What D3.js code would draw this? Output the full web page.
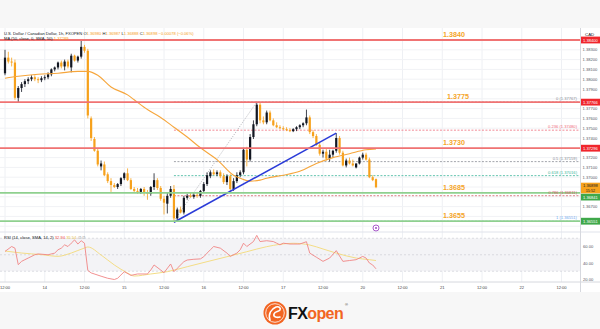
<!DOCTYPE html>
<html>
<head>
<meta charset="utf-8">
<script src="https://cdn.jsdelivr.net/npm/d3@7"></script>
<style>
  html, body { margin: 0; padding: 0; background: #f7f7f7; }
  svg { display: block; font-family: "Liberation Sans", Arial, sans-serif; }
</style>
</head>
<body>
<svg id="chart" width="600" height="329"></svg>
<script>
// USD/CAD 1h candles, [open, high, low, close], one per hour from 13th 12:00
const candles = [
  [1.3806,1.3830,1.3804,1.3822],[1.3822,1.3828,1.3816,1.3818],[1.3818,1.3822,1.3813,1.3817],
  [1.3817,1.3820,1.3779,1.3781],[1.3781,1.3793,1.3776,1.3791],[1.3791,1.3797,1.3787,1.3795],
  [1.3795,1.3800,1.3792,1.3798],[1.3798,1.3802,1.3795,1.3800],[1.3800,1.3804,1.3798,1.3802],
  [1.3802,1.3804,1.3798,1.3800],[1.3800,1.3802,1.3796,1.3799],[1.3799,1.3803,1.3797,1.3801],
  [1.3801,1.3804,1.3799,1.3802],[1.3802,1.3807,1.3800,1.3805],[1.3805,1.3811,1.3803,1.3810],
  [1.3810,1.3813,1.3808,1.3812],[1.3812,1.3818,1.3810,1.3817],[1.3817,1.3819,1.3811,1.3813],
  [1.3813,1.3820,1.3809,1.3818],[1.3818,1.3820,1.3811,1.3813],[1.3812,1.3826,1.3807,1.3824],
  [1.3824,1.3825,1.3818,1.3819],[1.3819,1.3824,1.3817,1.3823],[1.3823,1.3840,1.3821,1.3833],
  [1.3833,1.3835,1.3827,1.3829],[1.3829,1.3831,1.3760,1.3763],[1.3760,1.3762,1.3737,1.3740],
  [1.3739,1.3741,1.3726,1.3727],[1.3727,1.3729,1.3711,1.3713],[1.3711,1.3717,1.3707,1.3714],
  [1.3713,1.3716,1.3701,1.3702],[1.3703,1.3705,1.3694,1.3696],[1.3696,1.3699,1.3685,1.3692],
  [1.3692,1.3694,1.3689,1.3690],[1.3690,1.3694,1.3688,1.3693],[1.3693,1.3700,1.3691,1.3699],
  [1.3699,1.3705,1.3697,1.3704],[1.3704,1.3709,1.3696,1.3697],[1.3697,1.3699,1.3687,1.3688],
  [1.3688,1.3690,1.3684,1.3686],[1.3686,1.3689,1.3683,1.3685],[1.3685,1.3689,1.3683,1.3688],
  [1.3688,1.3690,1.3681,1.3684],[1.3684,1.3687,1.3677,1.3683],[1.3683,1.3691,1.3681,1.3690],
  [1.3690,1.3704,1.3687,1.3697],[1.3697,1.3699,1.3687,1.3689],[1.3689,1.3691,1.3676,1.3678],
  [1.3678,1.3681,1.3662,1.3674],[1.3673,1.3684,1.3663,1.3681],[1.3681,1.3691,1.3679,1.3688],
  [1.3688,1.3692,1.3654,1.3658],[1.3658,1.3669,1.3655,1.3667],[1.3667,1.3670,1.3663,1.3664],
  [1.3664,1.3681,1.3662,1.3679],[1.3679,1.3683,1.3677,1.3681],[1.3681,1.3684,1.3679,1.3680],
  [1.3680,1.3684,1.3678,1.3682],[1.3682,1.3685,1.3679,1.3681],[1.3681,1.3687,1.3679,1.3686],
  [1.3686,1.3695,1.3684,1.3693],[1.3693,1.3705,1.3691,1.3702],[1.3701,1.3707,1.3699,1.3705],
  [1.3705,1.3708,1.3702,1.3703],[1.3703,1.3707,1.3701,1.3705],[1.3705,1.3707,1.3699,1.3701],
  [1.3701,1.3704,1.3693,1.3695],[1.3695,1.3703,1.3692,1.3701],[1.3701,1.3703,1.3685,1.3688],
  [1.3688,1.3699,1.3686,1.3696],[1.3696,1.3705,1.3694,1.3702],[1.3702,1.3707,1.3700,1.3705],
  [1.3705,1.3730,1.3703,1.3728],[1.3728,1.3731,1.3711,1.3718],[1.3718,1.3744,1.3716,1.3741],
  [1.3741,1.3758,1.3739,1.3754],[1.3754,1.3777,1.3752,1.3774],[1.3774,1.3776,1.3755,1.3758],
  [1.3758,1.3762,1.3754,1.3756],[1.3756,1.3768,1.3754,1.3766],[1.3766,1.3768,1.3757,1.3758],
  [1.3758,1.3760,1.3752,1.3753],[1.3753,1.3756,1.3750,1.3751],[1.3751,1.3753,1.3749,1.3750],
  [1.3750,1.3752,1.3748,1.3749],[1.3749,1.3751,1.3747,1.3748],[1.3748,1.3750,1.3746,1.3747],
  [1.3747,1.3750,1.3746,1.3749],[1.3749,1.3752,1.3747,1.3751],[1.3751,1.3754,1.3749,1.3753],
  [1.3753,1.3756,1.3751,1.3755],[1.3755,1.3769,1.3753,1.3761],[1.3761,1.3763,1.3744,1.3746],
  [1.3746,1.3748,1.3740,1.3742],[1.3742,1.3744,1.3732,1.3733],[1.3733,1.3735,1.3722,1.3724],
  [1.3724,1.3728,1.3720,1.3726],[1.3726,1.3729,1.3717,1.3719],[1.3719,1.3728,1.3716,1.3723],
  [1.3723,1.3728,1.3720,1.3727],[1.3727,1.3745,1.3725,1.3740],[1.3740,1.3742,1.3723,1.3725],
  [1.3725,1.3727,1.3711,1.3712],[1.3712,1.3719,1.3710,1.3717],[1.3717,1.3720,1.3713,1.3714],
  [1.3714,1.3718,1.3711,1.3712],[1.3710,1.3714,1.3709,1.3714],[1.3714,1.3721,1.3713,1.3720],
  [1.3720,1.3725,1.3718,1.3723],[1.3723,1.3725,1.3717,1.3718],[1.3718,1.3720,1.3699,1.3700],
  [1.3700,1.3702,1.3696,1.3697],[1.36980,1.36987,1.36888,1.36898]
];

// MA(50) read at a few bars
const maIdx = [0, 4, 10, 16, 22, 25, 28, 32, 37, 39, 43, 47, 51, 55, 59, 64, 69, 71, 74, 77, 79, 84, 89, 94, 99, 104, 109, 112];
const maVal = [1.3801, 1.3803, 1.3805, 1.3806, 1.3808, 1.3808, 1.3804, 1.3792, 1.3784, 1.3779, 1.3769, 1.3761, 1.3751,
               1.3741, 1.3730, 1.3718, 1.3702, 1.3699, 1.3696, 1.3697, 1.3699, 1.3702, 1.3706, 1.3714, 1.3720, 1.3724, 1.3728, 1.37289];

// RSI(14) and its SMA
const rsiIdx = [0, 2, 3, 4, 5, 6, 7, 9, 10, 13, 15, 16, 17, 18, 19, 20, 21, 22, 23, 24, 25, 26, 29, 31, 33, 34, 35, 36, 38, 40,
                43, 44, 45, 47, 48, 50, 51, 52, 54, 55, 57, 59, 60, 61, 62, 63, 65, 67, 68, 70, 71, 72, 73, 75, 76, 77, 79,
                81, 82, 83, 84, 86, 89, 91, 92, 94, 96, 98, 100, 102, 104, 106, 108, 109, 110, 111, 112];
const rsiVal = [54, 60, 58, 38, 42, 44, 46, 50, 51, 50, 52, 56, 58, 62, 60, 64, 68, 63, 67, 64, 31, 28, 24, 21.5, 20, 21.5,
                25.5, 29.5, 25, 26.7, 26.7, 31.5, 37.6, 31.5, 28.2, 38.8, 29.5, 33.6, 41.6, 43.6, 44.5, 45, 47.6, 52, 56,
                60, 58, 52, 48, 52, 56, 64, 60, 66, 73.5, 66, 67, 66, 64, 62, 64, 63, 63, 65.8, 52, 47, 42, 46, 55, 42, 43,
                44, 48, 46, 40, 37.6, 32.94];
const rsiMaIdx = [0, 5, 11, 16, 20, 24, 25, 29, 33, 37, 39, 44, 49, 55, 61, 67, 73, 79, 87, 92, 96, 100, 106, 110, 112];
const rsiMaVal = [54.5, 52.1, 50.1, 48.1, 52.1, 58.2, 59.4, 49.7, 37.6, 27.9, 24.2, 26.7, 29.5, 35.5, 41.6, 47.6, 53.7,
                  59.8, 63.9, 61.8, 57, 52, 46, 44, 43];

// support / resistance lines
const levelPrices = [1.38400, 1.37766, 1.37296, 1.36841, 1.36551];
const levelNames  = ["1.3840", "1.3775", "1.3730", "1.3685", "1.3655"];
const levelAxis   = ["1.38400", "1.37766", "1.37296", "1.36841", "1.36551"];
const levelKinds  = ["res", "res", "res", "sup", "sup"];

// fibonacci retracement
const fibLevels = ["0", "0.236", "0.5", "0.618", "0.786", "1"];
const fibPrices = [1.37767, 1.37480, 1.37159, 1.37016, 1.36811, 1.36551];
const fibColors = ["#8a8d96", "#ef6b7a", "#8a8d96", "#3bb59a", "#d35b63", "#6fa8ef"];
const fibFrom = [51, 1.36551], fibTo = [76, 1.37767];

// trend line
const trendFrom = [51, 1.3654], trendTo = [100, 1.3745];

// axes
const xTickIdx = [0, 12, 24, 36, 48, 60, 72, 84, 96, 108, 120, 132, 144, 156, 168];
const xLabels  = ["12:00", "14", "12:00", "15", "12:00", "16", "12:00", "17", "12:00", "20", "12:00", "21", "12:00", "22", "12:00"];
const priceTicks = [1.3650, 1.3660, 1.3670, 1.3680, 1.3690, 1.3700, 1.3710, 1.3720, 1.3730, 1.3740,
                    1.3750, 1.3760, 1.3770, 1.3780, 1.3790, 1.3800, 1.3810, 1.3820, 1.3830];
const rsiTicks = [60, 40, 20];
const rsiBands = [70, 50, 30];

const last = candles[candles.length - 1];

const ORANGE = "#f6a11c", DARK = "#131722";
const RED_LINE = "#f07373", GREEN_LINE = "#8fd08f";
const PLOT_R = 580;
const MAIN_T = 28, MAIN_B = 232, RSI_B = 282;

const svg = d3.select("#chart");
const x = d3.scaleLinear().domain([0, 168]).range([5, 561.5]);
const y = d3.scaleLinear().domain([1.3655, 1.3840]).range([221.3, 40]);
const yR = d3.scaleLinear().domain([20, 60]).range([279.5, 246.5]);

svg.append("rect").attr("width", 600).attr("height", 329).attr("fill", "#f7f7f7");
svg.append("rect").attr("x", 0).attr("y", MAIN_T).attr("width", 600).attr("height", 264).attr("fill", "#fff");

const defs = svg.append("defs");
defs.append("clipPath").attr("id", "clipMain").append("rect")
  .attr("x", 0).attr("y", MAIN_T).attr("width", PLOT_R).attr("height", MAIN_B - MAIN_T);
defs.append("clipPath").attr("id", "clipRsi").append("rect")
  .attr("x", 0).attr("y", MAIN_B).attr("width", PLOT_R).attr("height", RSI_B - MAIN_B);

// grid
const grid = svg.append("g");
grid.selectAll(".vg").data(xTickIdx).join("line")
  .attr("x1", d => x(d)).attr("x2", d => x(d)).attr("y1", MAIN_T).attr("y2", RSI_B)
  .attr("stroke", "#eef0f4").attr("stroke-width", 1);
grid.selectAll(".hg").data(priceTicks).join("line")
  .attr("x1", 0).attr("x2", PLOT_R).attr("y1", d => y(d)).attr("y2", d => y(d))
  .attr("stroke", "#f1f2f5").attr("stroke-width", 1);

// RSI panel background band
const rsiG = svg.append("g").attr("clip-path", "url(#clipRsi)");
rsiG.append("rect").attr("x", 0).attr("width", PLOT_R)
  .attr("y", yR(70)).attr("height", yR(30) - yR(70))
  .attr("fill", "#f3f3f6");
rsiG.selectAll(".band").data(rsiBands).join("line")
  .attr("x1", 0).attr("x2", PLOT_R).attr("y1", d => yR(d)).attr("y2", d => yR(d))
  .attr("stroke", "#c9cbd2").attr("stroke-width", 0.6).attr("stroke-dasharray", "2,2");

// panel borders
svg.append("line").attr("x1", 0).attr("x2", 600).attr("y1", MAIN_B).attr("y2", MAIN_B).attr("stroke", "#e0e3eb");
svg.append("line").attr("x1", 0).attr("x2", 600).attr("y1", RSI_B).attr("y2", RSI_B).attr("stroke", "#d6d8de");
svg.append("line").attr("x1", PLOT_R + 0.5).attr("x2", PLOT_R + 0.5).attr("y1", MAIN_T).attr("y2", 292).attr("stroke", "#d6d8de");

const main = svg.append("g").attr("clip-path", "url(#clipMain)");

// fib lines
main.selectAll(".fib").data(fibPrices).join("line")
  .attr("x1", x(fibFrom[0])).attr("x2", PLOT_R).attr("y1", d => y(d)).attr("y2", d => y(d))
  .attr("stroke", (d, i) => fibColors[i]).attr("stroke-width", 0.8).attr("stroke-dasharray", "2,1.5");
main.append("line")
  .attr("x1", x(fibFrom[0])).attr("y1", y(fibFrom[1])).attr("x2", x(fibTo[0])).attr("y2", y(fibTo[1]))
  .attr("stroke", "#9a9ca3").attr("stroke-width", 0.8).attr("stroke-dasharray", "1,1.5");

// candles
const cw = 2.2;
const cg = main.append("g");
candles.forEach(([o, h, l, c], i) => {
  const col = c >= o ? DARK : ORANGE;
  cg.append("line")
    .attr("x1", x(i)).attr("x2", x(i)).attr("y1", y(h)).attr("y2", y(l))
    .attr("stroke", col).attr("stroke-width", 0.8);
  const top = y(Math.max(o, c)), bot = y(Math.min(o, c));
  cg.append("rect")
    .attr("x", x(i) - cw / 2).attr("y", top)
    .attr("width", cw).attr("height", Math.max(1, bot - top))
    .attr("fill", col);
});

// MA 50
main.append("path")
  .datum(maIdx.map((d, i) => [d, maVal[i]]))
  .attr("d", d3.line().x(d => x(d[0])).y(d => y(d[1])).curve(d3.curveMonotoneX))
  .attr("fill", "none").attr("stroke", "#f6a63c").attr("stroke-width", 1.1);

// trend line
main.append("line")
  .attr("x1", x(trendFrom[0])).attr("y1", y(trendFrom[1])).attr("x2", x(trendTo[0])).attr("y2", y(trendTo[1]))
  .attr("stroke", "#2a3bd8").attr("stroke-width", 1.5);

// support / resistance lines
svg.selectAll(".lvl").data(levelPrices).join("line")
  .attr("x1", 0).attr("x2", PLOT_R).attr("y1", d => y(d)).attr("y2", d => y(d))
  .attr("stroke", (d, i) => levelKinds[i] === "res" ? RED_LINE : GREEN_LINE)
  .attr("stroke-width", 1.8);

svg.selectAll(".lvlTxt").data(levelPrices).join("text")
  .attr("x", (d, i) => i === 1 ? 447 : 443).attr("y", d => y(d) - 3)
  .attr("font-size", 7.2).attr("font-weight", "bold").attr("fill", "#f5a52a")
  .text((d, i) => levelNames[i]);

// fib labels
svg.selectAll(".fibTxt").data(fibPrices).join("text")
  .attr("x", 577).attr("y", d => y(d) - 1.8)
  .attr("text-anchor", "end").attr("font-size", 4.1)
  .attr("fill", (d, i) => fibColors[i])
  .text((d, i) => `${fibLevels[i]} (${d.toFixed(5)})`);

// event marker
svg.append("circle").attr("cx", x(112)).attr("cy", 228).attr("r", 3)
  .attr("fill", "#fff").attr("stroke", "#a04bc4").attr("stroke-width", 0.9);
svg.append("circle").attr("cx", x(112)).attr("cy", 228).attr("r", 1)
  .attr("fill", "#a04bc4");

// RSI lines
rsiG.append("path")
  .datum(rsiMaIdx.map((d, i) => [d, rsiMaVal[i]]))
  .attr("d", d3.line().x(d => x(d[0])).y(d => yR(d[1])).curve(d3.curveMonotoneX))
  .attr("fill", "none").attr("stroke", "#f3dd86").attr("stroke-width", 1);
rsiG.append("path")
  .datum(rsiIdx.map((d, i) => [d, rsiVal[i]]))
  .attr("d", d3.line().x(d => x(d[0])).y(d => yR(d[1])))
  .attr("fill", "none").attr("stroke", "#f08585").attr("stroke-width", 0.9);

// price axis labels
const boxYs = levelPrices.map(d => y(d)).concat([y(last[3])]);
svg.selectAll(".pt").data(priceTicks.filter(p => boxYs.every(b => Math.abs(y(p) - b) > 5.5))).join("text")
  .attr("x", 582.5).attr("y", d => y(d) + 1.5)
  .attr("font-size", 4.1).attr("fill", "#555a66")
  .text(d => d.toFixed(5));

svg.selectAll(".rt").data(rsiTicks).join("text")
  .attr("x", 583).attr("y", d => yR(d) + 1.5)
  .attr("font-size", 4.1).attr("fill", "#555a66")
  .text(d => d.toFixed(2));

svg.append("text").attr("x", 585).attr("y", 35.5).attr("font-size", 4.4).attr("fill", DARK).text("CAD");

// boxes on price axis
const boxCenters = [y(levelPrices[0]), y(levelPrices[1]), y(levelPrices[2]), y(levelPrices[3]) + 4.3, y(levelPrices[4])];
levelPrices.forEach((p, i) => {
  const cy = boxCenters[i];
  svg.append("rect").attr("x", PLOT_R + 1).attr("y", cy - 3.4).attr("width", 19).attr("height", 6.8)
    .attr("fill", levelKinds[i] === "res" ? "#f0262c" : "#3fa84a");
  svg.append("text").attr("x", PLOT_R + 10.5).attr("y", cy + 1.5).attr("text-anchor", "middle")
    .attr("font-size", 4.1).attr("fill", "#fff").text(levelAxis[i]);
});
const lastY = y(last[3]);
svg.append("rect").attr("x", PLOT_R + 1).attr("y", lastY - 4.5).attr("width", 19).attr("height", 10.6).attr("fill", "#f7a21d");
svg.append("text").attr("x", PLOT_R + 10.5).attr("y", lastY + 0.2).attr("text-anchor", "middle")
  .attr("font-size", 4.1).attr("fill", DARK).text(last[3].toFixed(5));
svg.append("text").attr("x", PLOT_R + 10.5).attr("y", lastY + 4.8).attr("text-anchor", "middle")
  .attr("font-size", 3.8).attr("fill", DARK).text("15:52");

// time axis
svg.selectAll(".xt").data(xTickIdx).join("text")
  .attr("x", d => x(d)).attr("y", 288.5).attr("text-anchor", "middle")
  .attr("font-size", 4.1).attr("fill", "#444")
  .text((d, i) => xLabels[i]);

// legends
const legend = (yy, parts) => {
  const t = svg.append("text").attr("x", 4).attr("y", yy).attr("font-size", 4.1);
  parts.forEach(([s, col]) => t.append("tspan").attr("fill", col).text(s));
};
const f5 = v => v.toFixed(5);
legend(34.5, [
  ["U.S. Dollar / Canadian Dollar, 1h, FXOPEN  ", DARK],
  ["O", DARK], [f5(last[0]), ORANGE], [" H", DARK], [f5(last[1]), ORANGE],
  [" L", DARK], [f5(last[2]), ORANGE], [" C", DARK], [f5(last[3]), ORANGE],
  [" \u22120.00078 (\u22120.06%)", ORANGE]
]);
legend(40.2, [["MA (50, close, 0, SMA, 50)  ", DARK], [f5(maVal[maVal.length - 1]), ORANGE]]);
legend(239, [
  ["RSI (14, close, SMA, 14, 2)  ", DARK], [rsiVal[rsiVal.length - 1].toFixed(2), "#ef5350"],
  ["  35.54", "#e8c34a"], ["  \u2205  \u2205", "#888"]
]);

// FXOpen logo
const logo = svg.append("g");
logo.append("circle").attr("cx", 275).attr("cy", 313).attr("r", 11.5).attr("fill", "#f26522");
logo.append("circle").attr("cx", 275).attr("cy", 313).attr("r", 9.3).attr("fill", "none")
  .attr("stroke", "#fff").attr("stroke-width", 0.8);
logo.append("path")
  .attr("d", "M270,320 C268,314 271,309 276,307 C279,306 281,308 280,310 C278,312 275,311 274,314 C273,317 277,318 280,317")
  .attr("fill", "none").attr("stroke", "#fff").attr("stroke-width", 1.6).attr("stroke-linecap", "round");
const brand = logo.append("text").attr("x", 288).attr("y", 318.5)
  .attr("font-size", 16).attr("font-weight", "bold").attr("letter-spacing", "-0.6");
brand.append("tspan").attr("fill", "#111").text("FX");
brand.append("tspan").attr("fill", "#f26522").text("open");
logo.append("text").attr("x", 345).attr("y", 306).attr("font-size", 4).attr("fill", "#333").text("\u00ae");
</script>
</body>
</html>
